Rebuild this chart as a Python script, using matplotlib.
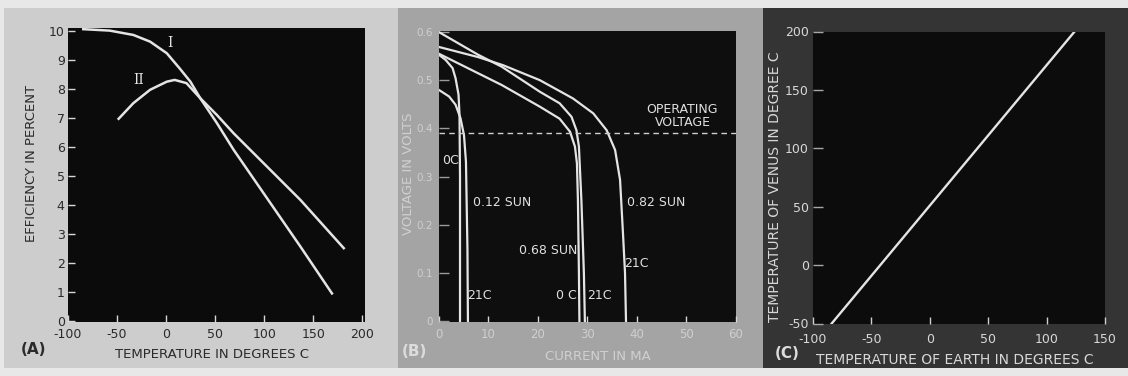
import matplotlib
matplotlib.use("Agg")
import matplotlib.pyplot as plt
from matplotlib.patches import Rectangle

plt.rcParams['font.family'] = ['DejaVu Sans']
plt.rcParams['axes.unicode_minus'] = False

# ---------------- data ----------------
# Panel A: efficiency vs temperature
a_ticks_x = [-100, -50, 0, 50, 100, 150, 200]
a_ticks_y = [0, 1, 2, 3, 4, 5, 6, 7, 8, 9, 10]
curve1_t = [-84, -57, -33, -16, 1, 14, 25, 35, 52, 69, 103, 137, 181]
curve1_e = [10.05, 10.0, 9.85, 9.62, 9.22, 8.70, 8.24, 7.67, 7.09, 6.46, 5.31, 4.16, 2.50]
curve2_t = [-48, -33, -16, 1, 9, 21, 35, 52, 69, 103, 137, 169]
curve2_e = [6.96, 7.50, 7.96, 8.24, 8.30, 8.19, 7.67, 6.81, 5.89, 4.22, 2.55, 0.94]

# Panel B: voltage vs current
b_ticks_x = [0, 10, 20, 30, 40, 50, 60]
b_ticks_y = [0, 0.1, 0.2, 0.3, 0.4, 0.5, 0.6]
b_ticklabels_y = ["0", "0.1", "0.2", "0.3", "0.4", "0.5", "0.6"]
sun012_0c_i = [0, 1.4, 2.8, 3.4, 4.0, 4.2, 4.3, 4.3]
sun012_0c_v = [0.553, 0.542, 0.525, 0.504, 0.47, 0.428, 0.30, 0.0]
sun012_21c_i = [0, 2.1, 3.4, 4.4, 5.1, 5.5, 5.8, 5.9]
sun012_21c_v = [0.48, 0.466, 0.449, 0.421, 0.386, 0.331, 0.15, 0.0]
sun068_0c_i = [0, 12.7, 20.4, 24.4, 26.5, 27.5, 27.9, 28.1, 28.3, 28.4]
sun068_0c_v = [0.555, 0.49, 0.445, 0.42, 0.393, 0.362, 0.327, 0.25, 0.10, 0.0]
sun068_21c_i = [0, 7.9, 12.7, 20.4, 24.4, 26.8, 27.8, 28.3, 28.8, 29.3, 29.5]
sun068_21c_v = [0.600, 0.553, 0.528, 0.476, 0.452, 0.424, 0.396, 0.362, 0.25, 0.10, 0.0]
sun082_i = [0, 7.9, 13, 20.4, 27.1, 31.2, 33.9, 35.6, 36.6, 37.2, 37.6, 37.8]
sun082_v = [0.569, 0.548, 0.531, 0.500, 0.462, 0.431, 0.396, 0.355, 0.293, 0.18, 0.10, 0.0]
operating_v = 0.39

# Panel C: Venus vs Earth temperature
c_ticks_x = [-100, -50, 0, 50, 100, 150]
c_ticks_y = [-50, 0, 50, 100, 150, 200]
earth_t = [-84, 124]
venus_t = [-50, 200]

# ---------------- figure ----------------
W, H = 1128, 376
fig = plt.figure(figsize=(W / 100, H / 100), dpi=100)
fig.patch.set_facecolor('#e8e8e8')

def px_rect(x0, y0, x1, y1, color):
    fig.add_artist(Rectangle((x0 / W, 1 - y1 / H), (x1 - x0) / W, (y1 - y0) / H,
                             transform=fig.transFigure, facecolor=color,
                             edgecolor='none', zorder=0))

px_rect(4, 8, 398, 368, '#cdcdcd')
px_rect(398, 8, 763, 368, '#a4a4a4')
px_rect(763, 8, 1128, 368, '#343434')

def add_axes(left, top, right, bottom):
    return fig.add_axes([left / W, 1 - bottom / H, (right - left) / W, (bottom - top) / H])

def ftext(x, y, s, **kw):
    fig.text(x / W, 1 - y / H, s, ha='center', va='center', **kw)

LINE = '#e4e4e4'

# ---- Panel A ----
axA = add_axes(67.5, 28, 365, 322)
axA.set_facecolor('#0b0b0b')
axA.plot(curve1_t, curve1_e, color=LINE, lw=1.8)
axA.plot(curve2_t, curve2_e, color=LINE, lw=1.8)
axA.set_xlim(-100, 202.6)
axA.set_ylim(-0.045, 10.09)
axA.set_xticks(a_ticks_x)
axA.set_yticks(a_ticks_y)
axA.tick_params(direction='in', length=5, width=1, color='#d8d8d8',
                labelcolor='#2a2a2a', labelsize=9)
axA.tick_params(axis='x', pad=4.5)
axA.tick_params(axis='y', pad=2)
for s in axA.spines.values():
    s.set_visible(False)
axA.text(4, 9.57, 'I', color=LINE, fontsize=10, family='DejaVu Serif',
         ha='center', va='center')
axA.text(-28, 8.3, 'II', color=LINE, fontsize=10, family='DejaVu Serif',
         ha='center', va='center')
ftext(32, 163, 'EFFICIENCY IN PERCENT', rotation=90, fontsize=9.5, color='#2a2a2a')
ftext(212, 355, 'TEMPERATURE IN DEGREES C', fontsize=9.5, color='#2a2a2a')
ftext(34, 350, '(A)', fontsize=11, color='#2a2a2a', fontweight='bold')

# ---- Panel B ----
axB = add_axes(438.7, 31, 736, 322)
axB.set_facecolor('#0e0e0e')
for xi, yi in [(sun012_0c_i, sun012_0c_v), (sun012_21c_i, sun012_21c_v),
               (sun068_0c_i, sun068_0c_v), (sun068_21c_i, sun068_21c_v),
               (sun082_i, sun082_v)]:
    axB.plot(xi, yi, color=LINE, lw=1.6)
axB.axhline(operating_v, color='#cfcfcf', lw=1.0, dashes=(4, 3))
axB.set_xlim(0, 60)
axB.set_ylim(-0.002, 0.602)
axB.set_xticks(b_ticks_x)
axB.set_yticks(b_ticks_y)
axB.set_yticklabels(b_ticklabels_y)
axB.tick_params(axis='x', direction='in', length=4, width=1, color='#d8d8d8',
                labelcolor='#cfcfcf', labelsize=8.5, pad=4)
axB.tick_params(axis='y', direction='in', length=7, width=1, color='#9a9a9a',
                labelcolor='#cfcfcf', labelsize=7.5, pad=4)
for s in axB.spines.values():
    s.set_visible(False)
lab = dict(color='#e0e0e0', fontsize=9, ha='center', va='center')
axB.text(49.2, 0.425, 'OPERATING\nVOLTAGE', linespacing=1.0, **lab)
axB.text(0.6, 0.334, '0C', color='#e0e0e0', fontsize=9, ha='left', va='center')
axB.text(12.7, 0.247, '0.12 SUN', **lab)
axB.text(8.3, 0.054, '21C', **lab)
axB.text(22.0, 0.147, '0.68 SUN', **lab)
axB.text(25.8, 0.054, '0 C', **lab)
axB.text(32.4, 0.054, '21C', **lab)
axB.text(43.8, 0.247, '0.82 SUN', **lab)
axB.text(39.9, 0.12, '21C', **lab)
ftext(408, 174, 'VOLTAGE IN VOLTS', rotation=90, fontsize=9.5, color='#d0d0d0')
ftext(598, 357, 'CURRENT IN MA', fontsize=9.5, color='#d0d0d0')
ftext(414, 351, '(B)', fontsize=11, color='#dcdcdc', fontweight='bold')

# ---- Panel C ----
axC = add_axes(813, 31.5, 1105, 323.5)
axC.set_facecolor('#0c0c0c')
axC.plot(earth_t, venus_t, color=LINE, lw=1.7)
axC.set_xlim(-100, 150)
axC.set_ylim(-50, 200)
axC.set_xticks(c_ticks_x)
axC.set_yticks(c_ticks_y)
axC.tick_params(axis='x', direction='in', length=5, width=1, color='#d0d0d0',
                labelcolor='#d8d8d8', labelsize=9, pad=7)
axC.tick_params(axis='y', direction='in', length=7, width=1, color='#a8a8a8',
                labelcolor='#d8d8d8', labelsize=9, pad=3)
for s in axC.spines.values():
    s.set_visible(False)
ftext(775, 187, 'TEMPERATURE OF VENUS IN DEGREE C', rotation=90, fontsize=10, color='#d8d8d8')
ftext(955, 360, 'TEMPERATURE OF EARTH IN DEGREES C', fontsize=10, color='#d8d8d8')
ftext(787, 354, '(C)', fontsize=11, color='#dcdcdc', fontweight='bold')

fig.savefig('out.png', dpi=100, facecolor=fig.get_facecolor())
